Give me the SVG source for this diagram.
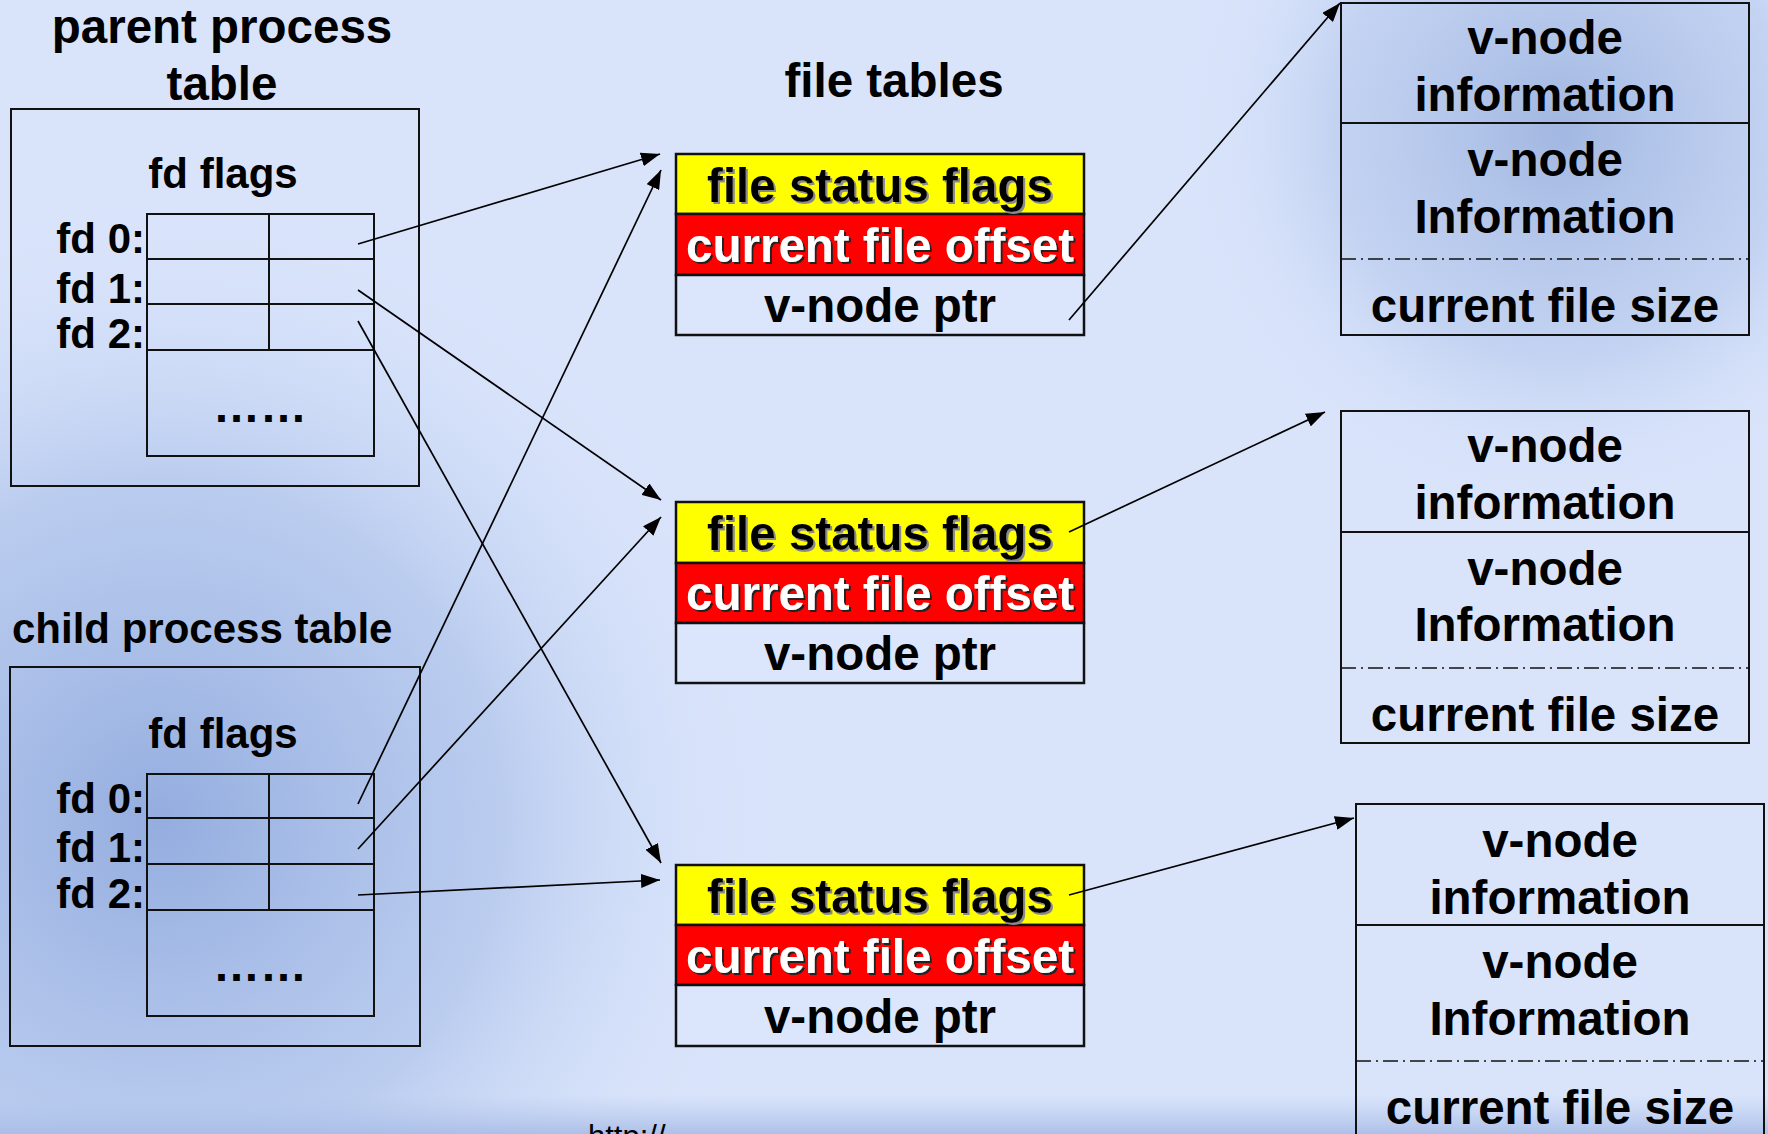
<svg xmlns="http://www.w3.org/2000/svg" width="1768" height="1134" viewBox="0 0 1768 1134">
<defs>
<style>
.t{font-family:"Liberation Sans",Arial,sans-serif;font-weight:bold;fill:#000}
.big{font-size:47.5px}
.mid{font-size:42px}
.box{fill:none;stroke:#111;stroke-width:2}
.ftbox{stroke:#111;stroke-width:2.5}
.conn line{stroke:#000;stroke-width:1.7;marker-end:url(#arr)}
.dd{stroke:#111;stroke-width:1.6;stroke-dasharray:15 5 2 5}
</style>
<marker id="arr" markerUnits="userSpaceOnUse" markerWidth="20" markerHeight="14" refX="19" refY="7" orient="auto">
<path d="M0,0 L19,7 L0,14 z" fill="#000"/>
</marker>
<filter id="shGray" x="-5%" y="-20%" width="110%" height="140%">
<feDropShadow dx="2" dy="2" stdDeviation="0.3" flood-color="#8a8a8a" flood-opacity="1"/>
</filter>
<filter id="shDark" x="-5%" y="-20%" width="110%" height="140%">
<feDropShadow dx="2" dy="2" stdDeviation="0.3" flood-color="#222" flood-opacity="1"/>
</filter>
<radialGradient id="bgBL" cx="160" cy="820" r="620" gradientUnits="userSpaceOnUse">
<stop offset="0" stop-color="#7d9bd6" stop-opacity="0.75"/>
<stop offset="0.55" stop-color="#95afe0" stop-opacity="0.45"/>
<stop offset="1" stop-color="#d9e4fb" stop-opacity="0"/>
</radialGradient>
<radialGradient id="bgTR" cx="1560" cy="130" r="380" gradientUnits="userSpaceOnUse">
<stop offset="0" stop-color="#8aa4d6" stop-opacity="0.7"/>
<stop offset="0.6" stop-color="#a3b9e4" stop-opacity="0.4"/>
<stop offset="1" stop-color="#d9e4fb" stop-opacity="0"/>
</radialGradient>
<linearGradient id="foot" x1="0" y1="1095" x2="0" y2="1134" gradientUnits="userSpaceOnUse">
<stop offset="0" stop-color="#b4c6ec" stop-opacity="0"/>
<stop offset="1" stop-color="#a8bce6" stop-opacity="0.9"/>
</linearGradient>
</defs>

<g id="background">
<rect x="0" y="0" width="1768" height="1134" fill="#d9e4fb"/>
<rect x="0" y="0" width="1768" height="1134" fill="url(#bgBL)"/>
<rect x="0" y="0" width="1768" height="1134" fill="url(#bgTR)"/>
<rect x="0" y="1095" width="1768" height="39" fill="url(#foot)"/>
</g>

<g id="parent-process-table">
<text class="t big" x="222" y="43" text-anchor="middle">parent process</text>
<text class="t big" x="222" y="100" text-anchor="middle">table</text>
<rect class="box" x="11" y="109" width="408" height="377"/>
<text class="t mid" x="223" y="188" text-anchor="middle">fd flags</text>
<rect class="box" x="147" y="214" width="227" height="242"/>
<line class="box" x1="147" y1="259" x2="374" y2="259"/>
<line class="box" x1="147" y1="304" x2="374" y2="304"/>
<line class="box" x1="147" y1="350" x2="374" y2="350"/>
<line class="box" x1="269" y1="214" x2="269" y2="350"/>
<text class="t mid" x="145" y="253" text-anchor="end">fd 0:</text>
<text class="t mid" x="145" y="303" text-anchor="end">fd 1:</text>
<text class="t mid" x="145" y="348" text-anchor="end">fd 2:</text>
<text class="t" font-size="47" x="260" y="422" text-anchor="middle">……</text>
</g>

<g id="child-process-table">
<text class="t mid" x="12" y="643">child process table</text>
<rect class="box" x="10" y="667" width="410" height="379"/>
<text class="t mid" x="223" y="748" text-anchor="middle">fd flags</text>
<rect class="box" x="147" y="774" width="227" height="242"/>
<line class="box" x1="147" y1="818" x2="374" y2="818"/>
<line class="box" x1="147" y1="864" x2="374" y2="864"/>
<line class="box" x1="147" y1="910" x2="374" y2="910"/>
<line class="box" x1="269" y1="774" x2="269" y2="910"/>
<text class="t mid" x="145" y="813" text-anchor="end">fd 0:</text>
<text class="t mid" x="145" y="862" text-anchor="end">fd 1:</text>
<text class="t mid" x="145" y="908" text-anchor="end">fd 2:</text>
<text class="t" font-size="47" x="260" y="981" text-anchor="middle">……</text>
</g>

<g id="file-tables-title">
<text class="t big" x="894" y="97" text-anchor="middle">file tables</text>
</g>

<g id="file-table-1">
<rect class="ftbox" x="676" y="154" width="408" height="60" fill="#ffff00"/>
<rect class="ftbox" x="676" y="214" width="408" height="61" fill="#ff0000"/>
<rect class="ftbox" x="676" y="275" width="408" height="60" fill="#dbe5fb"/>
<text class="t big" x="880" y="202" text-anchor="middle" filter="url(#shGray)">file status flags</text>
<text class="t big" x="880" y="262" text-anchor="middle" style="fill:#fff" filter="url(#shDark)">current file offset</text>
<text class="t big" x="880" y="322" text-anchor="middle">v-node ptr</text>
</g>

<g id="file-table-2">
<rect class="ftbox" x="676" y="502" width="408" height="61" fill="#ffff00"/>
<rect class="ftbox" x="676" y="563" width="408" height="60" fill="#ff0000"/>
<rect class="ftbox" x="676" y="623" width="408" height="60" fill="#dbe5fb"/>
<text class="t big" x="880" y="550" text-anchor="middle" filter="url(#shGray)">file status flags</text>
<text class="t big" x="880" y="610" text-anchor="middle" style="fill:#fff" filter="url(#shDark)">current file offset</text>
<text class="t big" x="880" y="670" text-anchor="middle">v-node ptr</text>
</g>

<g id="file-table-3">
<rect class="ftbox" x="676" y="865" width="408" height="60" fill="#ffff00"/>
<rect class="ftbox" x="676" y="925" width="408" height="60" fill="#ff0000"/>
<rect class="ftbox" x="676" y="985" width="408" height="61" fill="#dbe5fb"/>
<text class="t big" x="880" y="913" text-anchor="middle" filter="url(#shGray)">file status flags</text>
<text class="t big" x="880" y="973" text-anchor="middle" style="fill:#fff" filter="url(#shDark)">current file offset</text>
<text class="t big" x="880" y="1033" text-anchor="middle">v-node ptr</text>
</g>

<g id="vnode-1">
<rect class="box" x="1341" y="3" width="408" height="332"/>
<line class="box" x1="1341" y1="123" x2="1749" y2="123"/>
<line class="dd" x1="1341" y1="259" x2="1749" y2="259"/>
<text class="t big" x="1545" y="54" text-anchor="middle">v-node</text>
<text class="t big" x="1545" y="111" text-anchor="middle">information</text>
<text class="t big" x="1545" y="176" text-anchor="middle">v-node</text>
<text class="t big" x="1545" y="233" text-anchor="middle">Information</text>
<text class="t big" x="1545" y="322" text-anchor="middle">current file size</text>
</g>

<g id="vnode-2">
<rect class="box" x="1341" y="411" width="408" height="332"/>
<line class="box" x1="1341" y1="532" x2="1749" y2="532"/>
<line class="dd" x1="1341" y1="668" x2="1749" y2="668"/>
<text class="t big" x="1545" y="462" text-anchor="middle">v-node</text>
<text class="t big" x="1545" y="519" text-anchor="middle">information</text>
<text class="t big" x="1545" y="585" text-anchor="middle">v-node</text>
<text class="t big" x="1545" y="641" text-anchor="middle">Information</text>
<text class="t big" x="1545" y="731" text-anchor="middle">current file size</text>
</g>

<g id="vnode-3">
<rect class="box" x="1356" y="804" width="408" height="340"/>
<line class="box" x1="1356" y1="925" x2="1764" y2="925"/>
<line class="dd" x1="1356" y1="1061" x2="1764" y2="1061"/>
<text class="t big" x="1560" y="857" text-anchor="middle">v-node</text>
<text class="t big" x="1560" y="914" text-anchor="middle">information</text>
<text class="t big" x="1560" y="978" text-anchor="middle">v-node</text>
<text class="t big" x="1560" y="1035" text-anchor="middle">Information</text>
<text class="t big" x="1560" y="1124" text-anchor="middle">current file size</text>
</g>

<g id="connectors" class="conn">
<line x1="358" y1="244" x2="660" y2="154"/>
<line x1="358" y1="804" x2="661" y2="170"/>
<line x1="358" y1="290" x2="661" y2="500"/>
<line x1="358" y1="849" x2="661" y2="517"/>
<line x1="358" y1="321" x2="661" y2="863"/>
<line x1="358" y1="895" x2="660" y2="880"/>
<line x1="1069" y1="320" x2="1340" y2="3"/>
<line x1="1069" y1="532" x2="1325" y2="412"/>
<line x1="1069" y1="895" x2="1354" y2="818"/>
</g>

<g id="footer">
<text x="588" y="1147" font-family="Liberation Sans, Arial, sans-serif" font-size="31" fill="#000">http://</text>
</g>
</svg>
